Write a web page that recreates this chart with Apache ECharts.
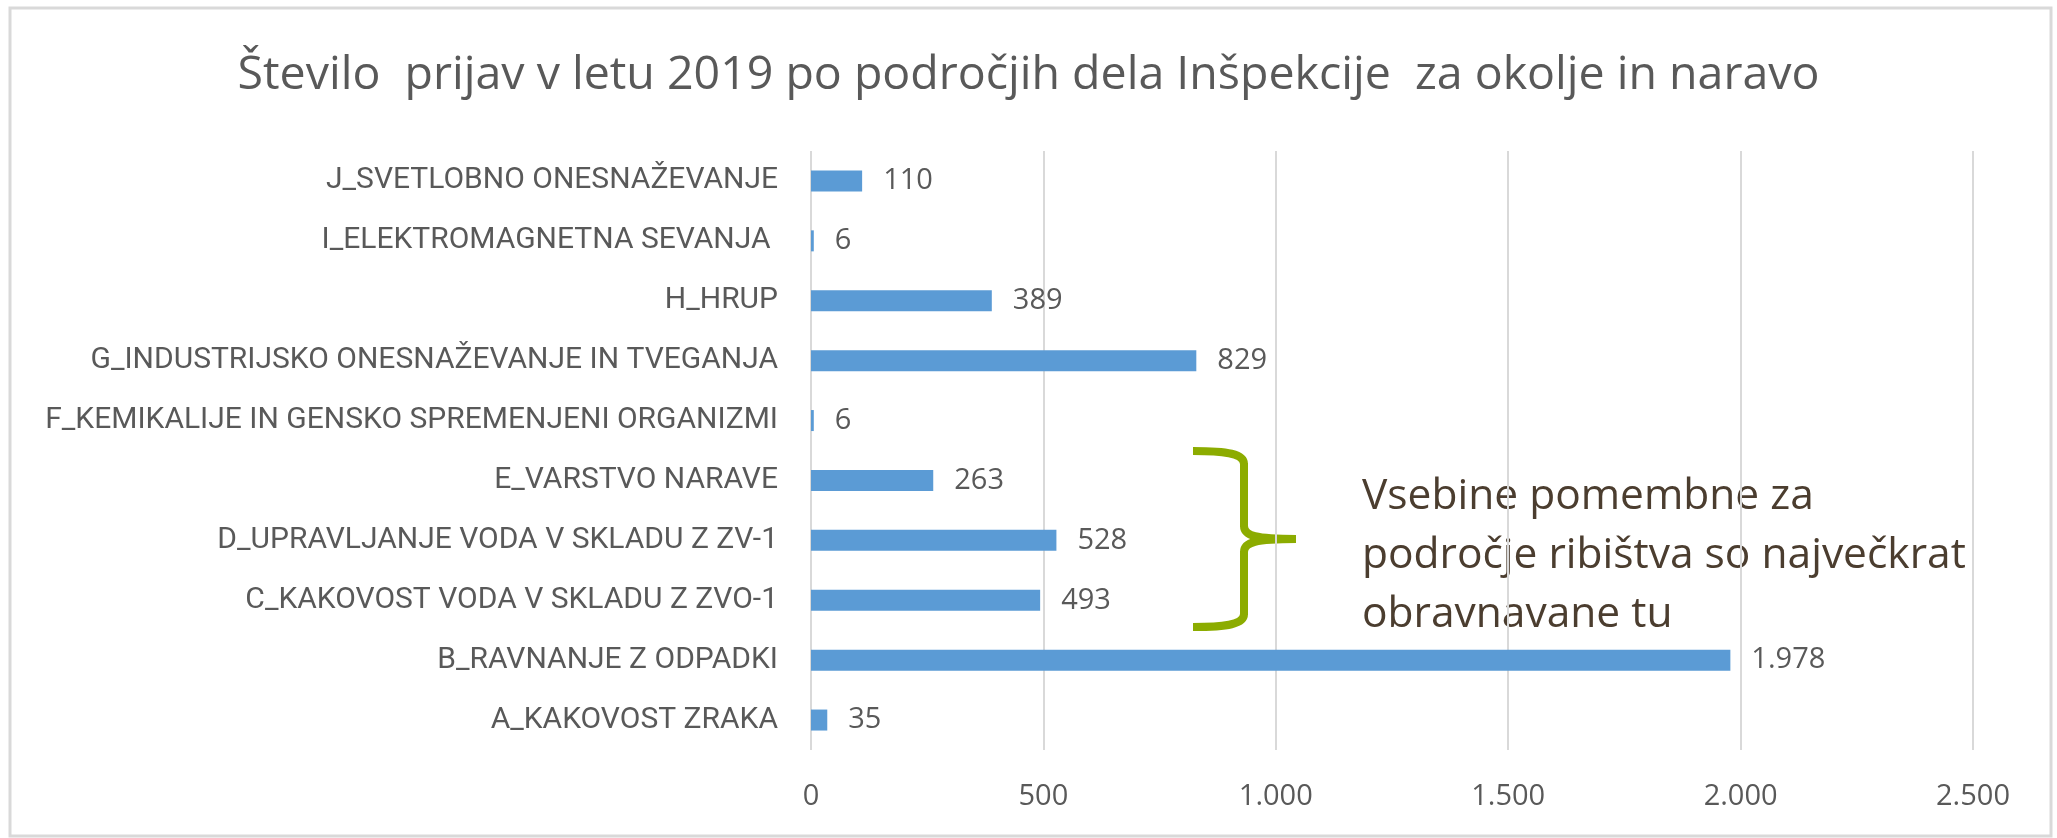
<!DOCTYPE html>
<html>
<head>
<meta charset="utf-8">
<script src="https://cdn.jsdelivr.net/npm/echarts@6/dist/echarts.min.js"></script>
<style>
  html, body { margin: 0; padding: 0; background: #fff; }
  #chart { width: 2057px; height: 838px; }
</style>
</head>
<body>
<div id="chart"></div>
<script>
  // podatki
  const categories = [
    'A_KAKOVOST ZRAKA',
    'B_RAVNANJE Z ODPADKI',
    'C_KAKOVOST VODA V SKLADU Z ZVO-1',
    'D_UPRAVLJANJE VODA V SKLADU Z ZV-1',
    'E_VARSTVO NARAVE',
    'F_KEMIKALIJE IN GENSKO SPREMENJENI ORGANIZMI',
    'G_INDUSTRIJSKO ONESNAŽEVANJE IN TVEGANJA',
    'H_HRUP',
    'I_ELEKTROMAGNETNA SEVANJA ',
    'J_SVETLOBNO ONESNAŽEVANJE'
  ];
  const prijave = [35, 1978, 493, 528, 263, 6, 829, 389, 6, 110];
  const xTicks = [0, 500, 1000, 1500, 2000, 2500];
  const noteLines = ['Vsebine pomembne za', 'področje ribištva so največkrat', 'obravnavane tu'];

  // slovenski zapis tisočic (1.978)
  function fmt(v) {
    return String(v).replace(/\B(?=(\d{3})+(?!\d))/g, '.');
  }

  const braceStyle = { fill: 'none', stroke: '#8cac00', lineWidth: 8 };

  const chart = echarts.init(document.getElementById('chart'));
  chart.setOption({
    animation: false,
    backgroundColor: '#fff',
    title: {
      text: 'Število  prijav v letu 2019 po področjih dela Inšpekcije  za okolje in naravo',
      left: 'center',
      top: 47,
      textStyle: {
        fontFamily: 'Open Sans',
        fontWeight: 'normal',
        fontSize: 46.5,
        color: '#595959'
      }
    },
    grid: {
      left: 811,
      right: 84,
      top: 151,
      bottom: 88,
      containLabel: false
    },
    xAxis: {
      type: 'value',
      min: xTicks[0],
      max: xTicks[xTicks.length - 1],
      interval: 500,
      axisLine: { show: false },
      axisTick: { show: false },
      axisLabel: {
        margin: 32,
        fontFamily: 'Open Sans',
        fontSize: 29,
        color: '#595959',
        formatter: fmt
      },
      splitLine: { lineStyle: { color: '#d9d9d9', width: 2 } }
    },
    yAxis: {
      type: 'category',
      data: categories,
      axisLine: { show: false },
      axisTick: { show: false },
      axisLabel: {
        margin: 33,
        fontFamily: 'Roboto',
        fontSize: 30,
        color: '#595959'
      }
    },
    series: [
      {
        name: 'prijave',
        type: 'bar',
        data: prijave,
        barWidth: 21,
        itemStyle: { color: '#5b9bd5' },
        label: {
          show: true,
          position: 'right',
          distance: 21,
          fontFamily: 'Open Sans',
          fontSize: 29,
          color: '#595959',
          formatter: p => fmt(p.value)
        }
      }
    ],
    graphic: [
      // okvir grafikona
      {
        type: 'rect',
        shape: { x: 10, y: 8, width: 2041, height: 828 },
        style: { fill: 'none', stroke: '#d9d9d9', lineWidth: 3 },
        silent: true
      },
      // zavita oklepaj
      {
        type: 'bezierCurve',
        shape: { x1: 1193, y1: 451, x2: 1244, y2: 464, cpx1: 1228, cpy1: 451, cpx2: 1244, cpy2: 454 },
        style: braceStyle, silent: true
      },
      {
        type: 'line',
        shape: { x1: 1244, y1: 463, x2: 1244, y2: 527 },
        style: braceStyle, silent: true
      },
      {
        type: 'bezierCurve',
        shape: { x1: 1244, y1: 526, x2: 1296, y2: 539, cpx1: 1244, cpy1: 536, cpx2: 1256, cpy2: 539 },
        style: braceStyle, silent: true
      },
      {
        type: 'bezierCurve',
        shape: { x1: 1296, y1: 539, x2: 1244, y2: 552, cpx1: 1256, cpy1: 539, cpx2: 1244, cpy2: 542 },
        style: braceStyle, silent: true
      },
      {
        type: 'line',
        shape: { x1: 1244, y1: 551, x2: 1244, y2: 615 },
        style: braceStyle, silent: true
      },
      {
        type: 'bezierCurve',
        shape: { x1: 1244, y1: 614, x2: 1193, y2: 627, cpx1: 1244, cpy1: 624, cpx2: 1228, cpy2: 627 },
        style: braceStyle, silent: true
      },
      {
        type: 'text',
        left: 1362,
        top: 467,
        style: {
          text: noteLines.join('\n'),
          fontFamily: 'Open Sans',
          fontSize: 42.5,
          lineHeight: 59,
          fill: '#4b3d2f'
        },
        silent: true
      }
    ]
  });
</script>
</body>
</html>
